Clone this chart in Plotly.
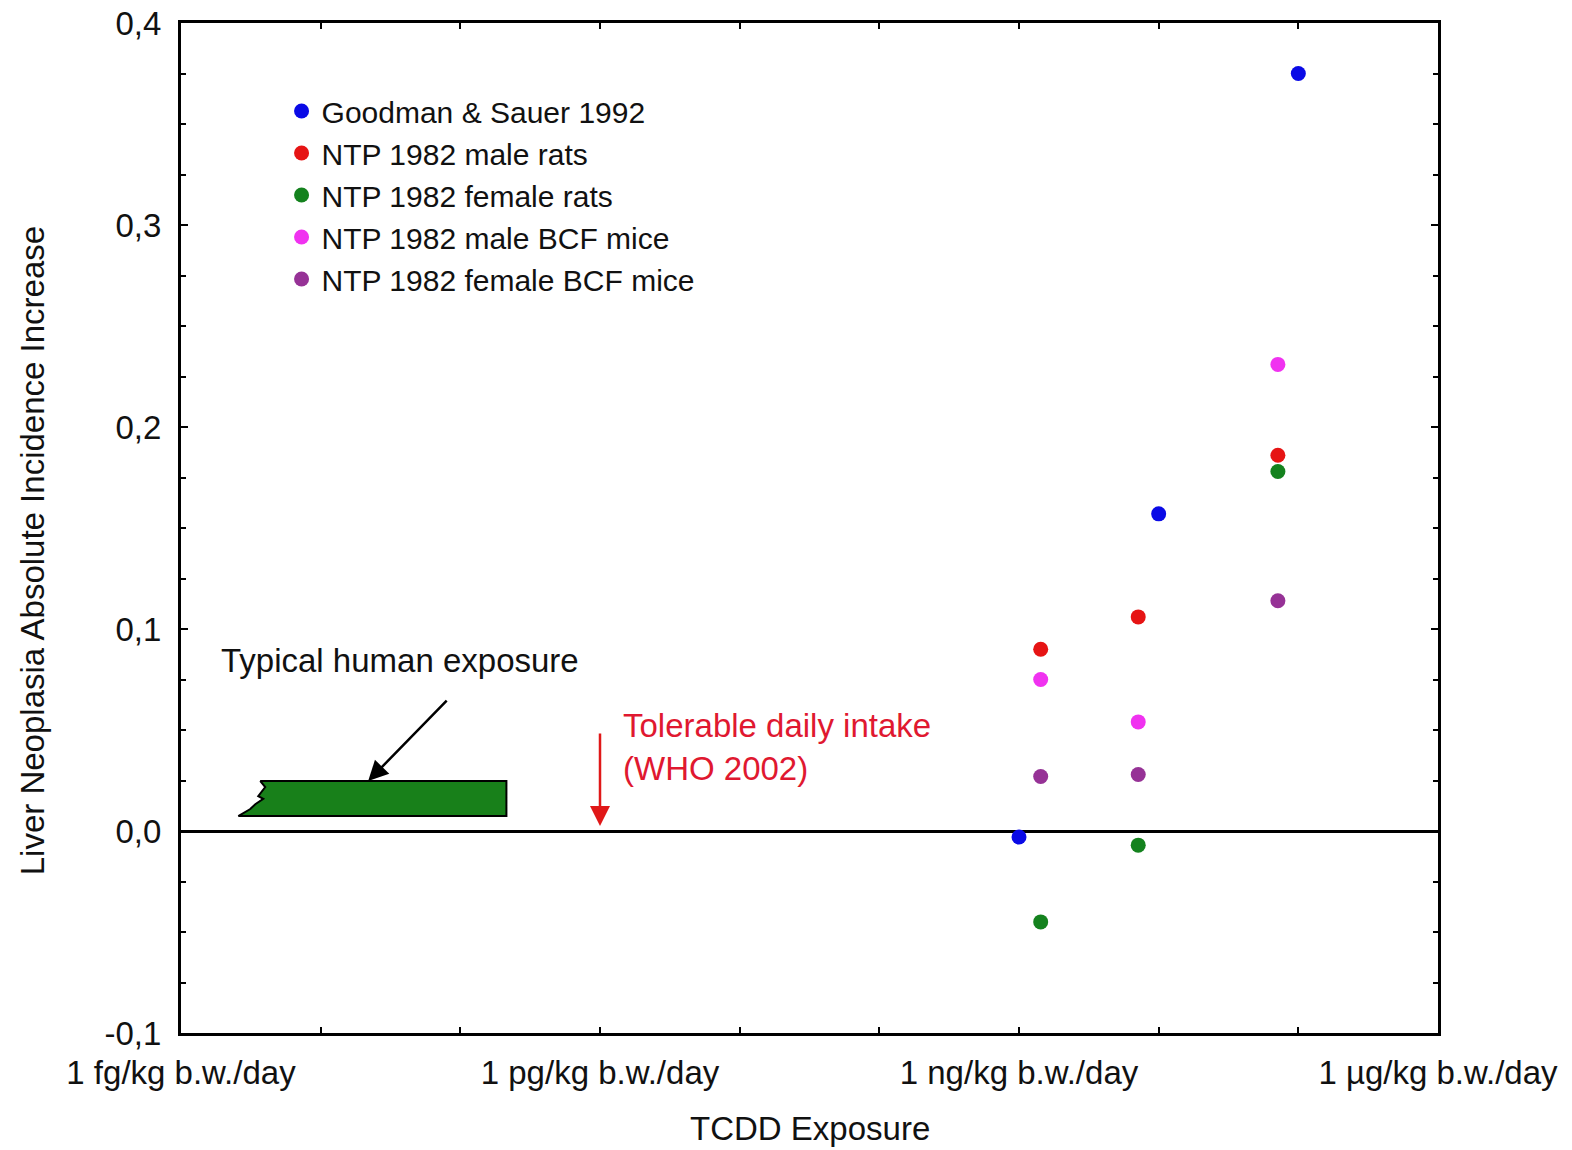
import math
import plotly.graph_objects as go

# ---------------- data (dose in g/kg b.w./day, incidence increase) ----------------
goodman_dose = [1e-9, 1e-8, 1e-7]
goodman_inc = [-0.003, 0.157, 0.375]

ntp_dose = [1.43e-9, 7.14e-9, 7.14e-8]
ntp_male_rats = [0.090, 0.106, 0.186]
ntp_female_rats = [-0.045, -0.007, 0.178]
ntp_male_mice = [0.075, 0.054, 0.231]
ntp_female_mice = [0.027, 0.028, 0.114]

series_names = ["Goodman & Sauer 1992", "NTP 1982 male rats", "NTP 1982 female rats",
                "NTP 1982 male BCF mice", "NTP 1982 female BCF mice"]
series_colors = ["#0a0ae6", "#e61414", "#14821e", "#f032f0", "#963296"]

x_tick_vals = [10.0 ** e for e in range(-15, -5)]
x_tick_text = {-15: "1 fg/kg b.w./day", -12: "1 pg/kg b.w./day",
               -9: "1 ng/kg b.w./day", -6: "1 µg/kg b.w./day"}
y_tick_vals = [-0.1, 0.0, 0.1, 0.2, 0.3, 0.4]
y_tick_text = ["-0,1", "0,0", "0,1", "0,2", "0,3", "0,4"]

# typical human exposure band
exposure_low = 10 ** -14.59
exposure_high = 10 ** -12.67
exposure_inc = [0.0074, 0.0247]
# jagged left edge: (decades right of exposure_low, fraction of band height)
jag_dec = [0.158, 0.193, 0.143, 0.179, 0.122, 0.086, 0.0]
jag_frac = [1.0, 0.83, 0.57, 0.49, 0.34, 0.20, 0.0]

tdi_dose = 1e-12  # tolerable daily intake (WHO 2002)

FONT = "Liberation Sans, Arial, sans-serif"
FS = 33
LEG_FS = 30

fig = go.Figure()

# exposure band polygon
y0, y1 = exposure_inc
band_x = [exposure_low, exposure_high, exposure_high]
band_y = [y0, y0, y1]
for d, f in zip(jag_dec, jag_frac):
    band_x.append(exposure_low * 10 ** d)
    band_y.append(y0 + f * (y1 - y0))
fig.add_trace(go.Scatter(x=band_x, y=band_y, mode="lines", fill="toself",
                         fillcolor="#18801a", line=dict(color="black", width=2),
                         showlegend=False, hoverinfo="skip"))

all_series = [(goodman_dose, goodman_inc), (ntp_dose, ntp_male_rats),
              (ntp_dose, ntp_female_rats), (ntp_dose, ntp_male_mice),
              (ntp_dose, ntp_female_mice)]
for (xs, ys), name, col in zip(all_series, series_names, series_colors):
    fig.add_trace(go.Scatter(x=xs, y=ys, mode="markers", name=name,
                             marker=dict(size=15, color=col, line=dict(width=0))))

annotations = [
    dict(x=math.log10(exposure_low) + 1.16, y=0.0845, xref="x", yref="y",
         text="Typical human exposure", showarrow=False,
         font=dict(family=FONT, size=FS, color="#111111")),
    dict(x=math.log10(exposure_low) + 0.93, y=y1, xref="x", yref="y", text="",
         showarrow=True, ax=80, ay=-82, arrowhead=2, arrowsize=1.6,
         arrowwidth=2.5, arrowcolor="black"),
    dict(x=math.log10(tdi_dose), y=0.0025, xref="x", yref="y", text="",
         showarrow=True, ax=0, ay=-94, arrowhead=2, arrowsize=1.6,
         arrowwidth=2.5, arrowcolor="#e01818"),
    dict(x=math.log10(tdi_dose) + 0.15, y=0.0415, xref="x", yref="y",
         text="Tolerable daily intake<br>(WHO 2002)", showarrow=False,
         xanchor="left", yanchor="middle", align="left",
         font=dict(family=FONT, size=FS, color="#e01830")),
    dict(x=0.5004, y=-0.095, xref="paper", yref="paper", text="TCDD Exposure",
         showarrow=False, yanchor="middle",
         font=dict(family=FONT, size=FS, color="#111111")),
    dict(x=-0.1185, y=0.477, xref="paper", yref="paper",
         text="Liver Neoplasia Absolute Incidence Increase", textangle=-90,
         showarrow=False, xanchor="center", yanchor="middle",
         font=dict(family=FONT, size=FS, color="#111111")),
]

fig.update_layout(
    width=1572, height=1150,
    margin=dict(l=181, r=134, t=23, b=117, autoexpand=False),
    paper_bgcolor="white", plot_bgcolor="white",
    font=dict(family=FONT, size=FS, color="#111111"),
    separators=",.",
    showlegend=True,
    legend=dict(x=0.08, y=0.9386, xanchor="left", yanchor="top",
                bgcolor="rgba(0,0,0,0)", borderwidth=0,
                font=dict(family=FONT, size=LEG_FS, color="#111111"),
                itemsizing="trace", tracegroupgap=0),
    annotations=annotations,
)

fig.update_xaxes(
    type="log", range=[-15, -6],
    tickvals=x_tick_vals,
    ticktext=[x_tick_text.get(round(math.log10(v)), "") for v in x_tick_vals],
    ticks="inside", ticklen=6, tickwidth=2, tickcolor="black",
    showline=True, linecolor="black", linewidth=3, mirror="ticks",
    showgrid=False, zeroline=False,
    ticklabelstandoff=8, ticklabeloverflow="allow",
    tickfont=dict(family=FONT, size=FS, color="#111111"),
)
fig.update_yaxes(
    range=[-0.1, 0.4],
    tickvals=y_tick_vals, ticktext=y_tick_text,
    ticks="inside", ticklen=7, tickwidth=2, tickcolor="black",
    minor=dict(dtick=0.025, tick0=0, ticks="inside", ticklen=5, tickwidth=1.5,
               tickcolor="black", showgrid=False),
    showline=True, linecolor="black", linewidth=3, mirror="ticks",
    showgrid=False,
    zeroline=True, zerolinecolor="black", zerolinewidth=3,
    ticklabelstandoff=10, ticklabeloverflow="allow",
    tickfont=dict(family=FONT, size=FS, color="#111111"),
)

fig.write_html("out.html")
